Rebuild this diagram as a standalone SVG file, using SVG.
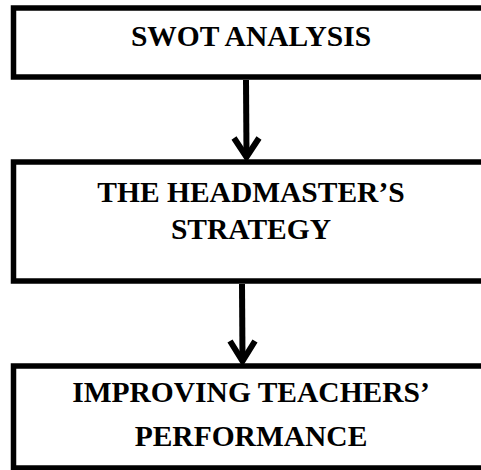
<svg xmlns="http://www.w3.org/2000/svg" width="481" height="470" viewBox="0 0 481 470">
<style>
.box{fill:#fff;stroke:#000;stroke-width:5.5}
.lbl{font-family:"Liberation Serif","Times New Roman",serif;font-weight:bold;font-size:29.5px;fill:#000;text-anchor:middle}
.conn{fill:none;stroke:#000;stroke-width:6;stroke-linejoin:miter}
</style>
<rect width="481" height="470" fill="#fff"/>
<g id="node-swot">
<rect class="box" x="13.5" y="8" width="480" height="69"/>
<text class="lbl" x="251" y="46">SWOT ANALYSIS</text>
</g>
<g id="node-strategy">
<rect class="box" x="13.5" y="162" width="480" height="119"/>
<text class="lbl" x="251" y="202">THE HEADMASTER’S</text>
<text class="lbl" x="251" y="239">STRATEGY</text>
</g>
<g id="node-improving">
<rect class="box" x="13.5" y="366" width="480" height="102"/>
<text class="lbl" x="251" y="402">IMPROVING TEACHERS’</text>
<text class="lbl" x="251" y="446">PERFORMANCE</text>
</g>
<g id="connectors">
<path class="conn" d="M246 80 L246.5 156"/>
<path class="conn" d="M234 138 L246.5 157 L259 138"/>
<path class="conn" d="M242 284 L242.5 360"/>
<path class="conn" d="M230 341 L242.5 361 L255 341"/>
</g>
</svg>
